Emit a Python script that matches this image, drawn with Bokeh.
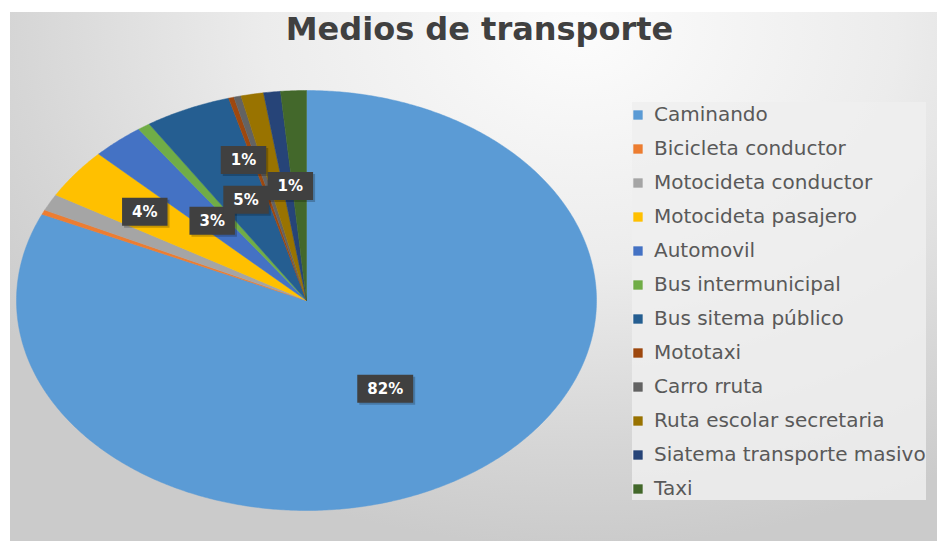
import numpy as np
from bokeh.plotting import figure
from bokeh.models import ColumnDataSource, Range1d, Legend, LegendItem, Label
from bokeh.core.properties import value
from bokeh.embed import file_html
from bokeh.resources import INLINE

# ---------------- data ----------------
title_text = "Medios de transporte"
categories = ["Caminando", "Bicicleta conductor", "Motocideta conductor",
              "Motocideta pasajero", "Automovil", "Bus intermunicipal",
              "Bus sitema público", "Mototaxi", "Carro rruta",
              "Ruta escolar secretaria", "Siatema transporte masivo", "Taxi"]
shares = [81.8, 0.35, 1.3, 3.9, 2.9, 0.7, 4.8, 0.3, 0.4, 1.26, 0.94, 1.43]
colors = ["#5B9BD5", "#ED7D31", "#A5A5A5", "#FFC000", "#4472C4", "#70AD47",
          "#255E91", "#9E480E", "#636363", "#997300", "#264478", "#43682B"]
labelled = ["Caminando", "Motocideta pasajero", "Automovil",
            "Bus sitema público", "Ruta escolar secretaria", "Taxi"]

# ---------------- styling / layout ----------------
# label placement: (radial fraction, x nudge px, y nudge px)
label_place = {"Caminando": (0.5, 0, 0), "Motocideta pasajero": (0.7, 0, 0),
               "Automovil": (0.5, 0, 0), "Bus sitema público": (0.5, -1, -5),
               "Ruta escolar secretaria": (0.7, -25, 4), "Taxi": (0.55, -9, 1)}
W, H = 937, 541
CX, CY, RX, RY = 306, 300, 290, 210   # pie centre / radii in pixels

p = figure(width=W, height=H, output_backend="svg", toolbar_location=None,
           x_axis_type=None, y_axis_type=None, min_border=0,
           x_range=Range1d(-CX / RX, (W - CX) / RX),
           y_range=Range1d(-(H - CY) / RY, CY / RY))
p.outline_line_color = None
p.background_fill_alpha = 0
p.border_fill_alpha = 0
p.styles = {"background":
            "linear-gradient(#ffffff, #ffffff) 0 0 / 100% 12px no-repeat, "
            "linear-gradient(#ffffff, #ffffff) 0 0 / 10px 100% no-repeat, "
            "radial-gradient(ellipse 75% 95% at 62% 6%, #fcfcfc 0%, #ececec 45%, #d6d6d6 80%, #cbcbcb 100%)"}

vals = np.array(shares, dtype=float)
frac = vals / vals.sum()
ends = np.cumsum(frac)
starts = ends - frac

items = []
for i, cat in enumerate(categories):
    n = max(3, int(frac[i] * 720) + 3)
    t = np.linspace(starts[i], ends[i], n)
    ang = np.pi / 2 - 2 * np.pi * t
    xs = np.concatenate([[0.0], np.cos(ang)])
    ys = np.concatenate([[0.0], np.sin(ang)])
    src = ColumnDataSource(dict(xs=[xs.tolist()], ys=[ys.tolist()]))
    r = p.patches("xs", "ys", source=src, fill_color=colors[i],
                  line_color=colors[i], line_width=0.5)
    items.append(LegendItem(label=cat, renderers=[r]))

# data labels
lx, ly, lt, ox, oy = [], [], [], [], []
for cat in labelled:
    i = categories.index(cat)
    rf, dx, dy = label_place[cat]
    mid = np.pi / 2 - 2 * np.pi * (starts[i] + ends[i]) / 2
    lx.append(rf * np.cos(mid))
    ly.append(rf * np.sin(mid))
    lt.append(f"{round(frac[i] * 100):.0f}%")
    ox.append(dx)
    oy.append(dy)
lsrc = ColumnDataSource(dict(x=lx, y=ly, text=lt, ox=ox, oy=oy,
                             sox=[v + 2 for v in ox], soy=[v + 2 for v in oy]))
pad = dict(left=10, right=10, top=5, bottom=5)
p.text("x", "y", text="text", source=lsrc, x_offset="sox", y_offset="soy",
       text_alpha=0, text_font=value("DejaVu Sans"), text_font_style="bold",
       text_font_size="15px", text_align="center", text_baseline="middle",
       background_fill_color="black", background_fill_alpha=0.22, padding=pad)
p.text("x", "y", text="text", source=lsrc, x_offset="ox", y_offset="oy",
       text_color="white", text_font=value("DejaVu Sans"), text_font_style="bold",
       text_font_size="15px", text_align="center", text_baseline="middle",
       background_fill_color="#404040", padding=pad)

legend = Legend(items=items, location=(632, 41), orientation="vertical",
                label_text_font="DejaVu Sans", label_text_font_size="20px",
                label_text_color="#595959", glyph_width=11, glyph_height=11,
                label_standoff=11, label_height=23, spacing=10, padding=10,
                margin=0, border_line_color=None,
                background_fill_color="#efefef", background_fill_alpha=0.85)
p.add_layout(legend)

p.add_layout(Label(x=479, y=H - 28, x_units="screen", y_units="screen",
                   text=title_text, text_font="DejaVu Sans", text_font_style="bold",
                   text_font_size="32px", text_color="#404040",
                   text_align="center", text_baseline="alphabetic"))

open("out.html", "w").write(file_html(p, INLINE))
